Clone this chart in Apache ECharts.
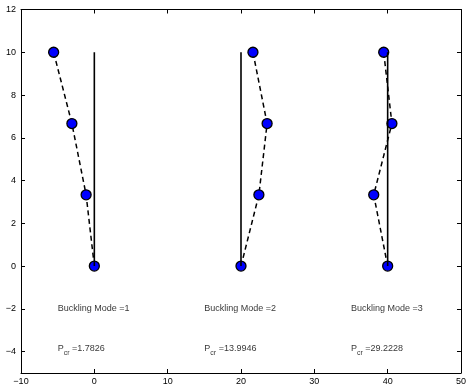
<!DOCTYPE html>
<html><head><meta charset="utf-8">
<script src="https://cdn.jsdelivr.net/npm/echarts@6/dist/echarts.min.js"></script>
<style>html,body{margin:0;padding:0;background:#fff}#c{width:469px;height:386px}</style>
</head><body><div id="c"></div>
<script>
const levels = [0, 3.3333, 6.6667, 10];
const offsets = [0, 20, 40];
const mode1X = [0, -1.12, -3.06, -5.55];
const mode2X = [20, 22.44, 23.56, 21.63];
const mode3X = [40, 38.1, 40.58, 39.46];
const modeNames = ['Buckling Mode =1', 'Buckling Mode =2', 'Buckling Mode =3'];
const pcrValues = ['1.7826', '13.9946', '29.2228'];
const xTicks = [-10, 0, 10, 20, 30, 40, 50];
const yTicks = [-4, -2, 0, 2, 4, 6, 8, 10, 12];
const labelY = -2;
const pcrY = -3.9;
const labelDX = -5;

const FONT = 'Liberation Sans, Arial, Helvetica, sans-serif';
const modes = [mode1X, mode2X, mode3X];
const fmt = v => String(v).replace('-', '\u2212');

const series = [];
modes.forEach((xs) => {
  series.push({
    type: 'line', xAxisIndex: 0, yAxisIndex: 0, z: 2,
    data: xs.map((x, i) => [x, levels[i]]),
    symbol: 'circle', symbolSize: 10, showSymbol: true,
    lineStyle: { color: '#000', width: 1.5, type: [5, 3.5] },
    itemStyle: { color: '#0000ff', borderColor: '#000', borderWidth: 1.3 },
    animation: false, silent: true
  });
});
offsets.forEach((o) => {
  series.push({
    type: 'line', z: 3, data: [[o, levels[0]], [o, levels[levels.length - 1]]],
    showSymbol: false, symbol: 'none',
    lineStyle: { color: '#000', width: 1.6 }, animation: false, silent: true
  });
});
series.push({
  type: 'scatter', symbolSize: 0, z: 4, animation: false, silent: true,
  data: offsets.map((o, i) => ({ value: [o + labelDX, labelY], name: modeNames[i] })),
  label: { show: true, position: 'right', distance: 0, color: '#000', fontSize: 9, fontFamily: FONT,
    formatter: p => p.name }
});
series.push({
  type: 'scatter', symbolSize: 0, z: 4, animation: false, silent: true,
  data: offsets.map((o, i) => ({ value: [o + labelDX, pcrY], name: pcrValues[i] })),
  label: { show: true, position: 'right', distance: 0,
    formatter: p => '{a|P}{b|cr}{a| =' + p.name + '}',
    rich: {
      a: { fontSize: 9, fontFamily: FONT, color: '#000', lineHeight: 11, verticalAlign: 'top' },
      b: { fontSize: 7, fontFamily: FONT, color: '#000', padding: [6, 0, 0, 0], lineHeight: 8, verticalAlign: 'top' }
    }
  }
});

const axisCommon = {
  type: 'value',
  axisLine: { show: true, onZero: false, lineStyle: { color: '#000', width: 1 } },
  axisTick: { show: true, inside: true, length: 4, lineStyle: { color: '#000' } },
  splitLine: { show: false }
};

const chart = echarts.init(document.getElementById('c'), null, { renderer: 'canvas' });
chart.setOption({
  animation: false,
  backgroundColor: '#fff',
  grid: { left: 21, right: 6, top: 9.5, bottom: 13, containLabel: false },
  xAxis: [
    Object.assign({}, axisCommon, { position: 'bottom', min: -10, max: 50, interval: 10,
      axisLabel: { color: '#000', fontSize: 9, fontFamily: FONT, margin: 4, formatter: fmt } }),
    Object.assign({}, axisCommon, { position: 'top', min: -10, max: 50, interval: 10,
      axisLabel: { show: false } })
  ],
  yAxis: [
    Object.assign({}, axisCommon, { position: 'left', min: -5, max: 12,
      axisTick: Object.assign({}, axisCommon.axisTick, { customValues: yTicks }),
      axisLabel: { color: '#000', fontSize: 9, fontFamily: FONT, margin: 5, formatter: fmt, customValues: yTicks } }),
    Object.assign({}, axisCommon, { position: 'right', min: -5, max: 12,
      axisTick: Object.assign({}, axisCommon.axisTick, { customValues: yTicks }),
      axisLabel: { show: false, customValues: yTicks } })
  ],
  series: series
});
</script></body></html>
